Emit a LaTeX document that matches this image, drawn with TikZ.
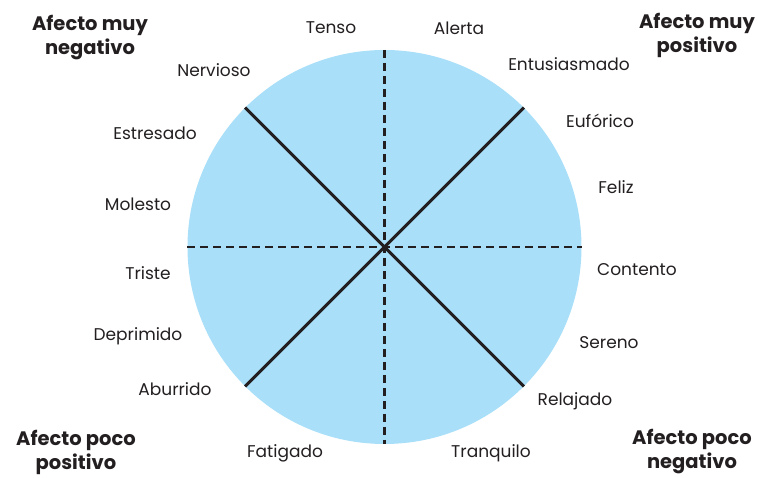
\documentclass[tikz,border=0pt]{standalone}
\usepackage{fontspec}
\setmainfont{Poppins}
\definecolor{fillblue}{HTML}{A9DFF8}
\definecolor{ink}{HTML}{231F20}
\begin{document}
\begin{tikzpicture}[x=1pt,y=1pt,
  lab/.style={font=\fontsize{17}{17}\selectfont, text=ink, inner sep=0pt},
  head/.style={font=\bfseries\fontsize{19.5}{24}\selectfont, text=ink, align=center, inner sep=0pt},
  solidline/.style={draw=ink, line width=3pt},
  dashline/.style={draw=ink, line width=2.8pt, dash pattern=on 8pt off 5pt}]
\useasboundingbox (0,0) rectangle (758,477);
% circle
\node[circle, fill=fillblue, minimum size=394pt, inner sep=0pt] (c) at (384.5,230) {};
\draw[solidline] (c.135) -- (c.-45);
\draw[solidline] (c.45) -- (c.-135);
\draw[dashline] (c.north) -- (c.south);
\draw[dashline] (c.west) -- (c.east);
% labels
\node[lab] (tenso) at (331,449) {Tenso};
\node[lab] (alerta) at (459,449) {Alerta};
\node[lab] (nerv) at (214,407) {Nervioso};
\node[lab] (entu) at (569,413) {Entusiasmado};
\node[lab] (estr) at (155,344) {Estresado};
\node[lab] (eufo) at (600,356) {Eufórico};
\node[lab] (mole) at (138,273) {Molesto};
\node[lab] (feliz) at (616,290) {Feliz};
\node[lab] (trist) at (148,204) {Triste};
\node[lab] (cont) at (637,207) {Contento};
\node[lab] (depr) at (138,141) {Deprimido};
\node[lab] (sere) at (609,134) {Sereno};
\node[lab] (abur) at (175,88) {Aburrido};
\node[lab] (rela) at (575,76) {Relajado};
\node[lab] (fati) at (285,24) {Fatigado};
\node[lab] (tran) at (491,24) {Tranquilo};
% headings
\node[head] (mn) at (90,439) {Afecto muy\\negativo};
\node[head] (mp) at (697,442) {Afecto muy\\positivo};
\node[head] (pp) at (76,25) {Afecto poco\\positivo};
\node[head] (pn) at (692,25) {Afecto poco\\negativo};
\end{tikzpicture}
\end{document}
